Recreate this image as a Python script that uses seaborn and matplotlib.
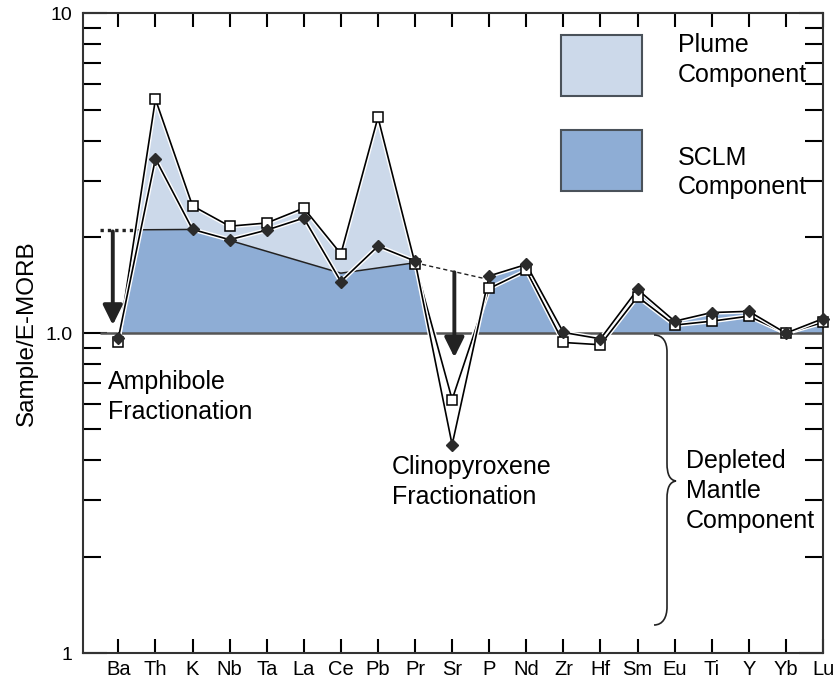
import numpy as np
import pandas as pd
import matplotlib
matplotlib.use("Agg")
import matplotlib.pyplot as plt
import seaborn as sns
from matplotlib import patheffects as pe
from matplotlib.path import Path
from matplotlib.patches import PathPatch, Rectangle

# ---------------- data ----------------
elements = ["Ba", "Th", "K", "Nb", "Ta", "La", "Ce", "Pb", "Pr", "Sr",
            "P", "Nd", "Zr", "Hf", "Sm", "Eu", "Ti", "Y", "Yb", "Lu"]
open_series = [0.94, 5.39, 2.50, 2.16, 2.21, 2.46, 1.77, 4.73, 1.65, 0.62,
               1.38, 1.57, 0.935, 0.92, 1.30, 1.06, 1.09, 1.13, 1.00, 1.08]
filled_series = [0.965, 3.51, 2.11, 1.96, 2.10, 2.29, 1.45, 1.87, 1.68, 0.448,
                 1.51, 1.64, 1.005, 0.96, 1.37, 1.09, 1.16, 1.17, 1.00, 1.11]
sclm_start_value = 2.10               # dotted start, left of Ba
sclm_env_labels = ["K", "Ce", "Pr"]   # SCLM component upper boundary
sclm_env_values = [2.11, 1.54, 1.66]
depl_labels = ["Pr", "P"]             # dashed continuation
depl_values = [1.66, 1.47]
amph_arrow = (2.08, 1.06)             # Amphibole fractionation arrow (from, to)
cpx_arrow = (1.55, 0.84)              # Clinopyroxene fractionation arrow
ytick_vals = [0.1, 1.0, 10.0]
ytick_labels = ["1", "1.0", "10"]

LIGHT = "#ccd9ea"
DARK = "#8eadd5"
W, H = 834, 683

sns.set_theme(style="ticks")
plt.rcParams["font.family"] = ["Liberation Sans", "DejaVu Sans"]
for k in ["text.color", "axes.labelcolor", "xtick.color", "ytick.color"]:
    plt.rcParams[k] = "black"

fig = plt.figure(figsize=(W / 100, H / 100), dpi=100)
L, R, T, B = 83.3, 823.0, 13.3, 653.0
ax = fig.add_axes([L / W, 1 - B / H, (R - L) / W, (B - T) / H])
ax.set_yscale("log")
ax.set_ylim(0.1, 10)
ax.set_xlim(-0.945, 19.0)

idx = {e: i for i, e in enumerate(elements)}
xs = np.arange(len(elements), dtype=float)
lo = np.log10(open_series)
lf = np.log10(filled_series)

# envelopes on a fine grid (straight in log space = straight on screen)
xd = np.linspace(0, len(elements) - 1, 4000)
upper = np.maximum(np.interp(xd, xs, lo), np.interp(xd, xs, lf))
sx = [-0.5] + [idx[e] for e in sclm_env_labels]
sv = np.log10([sclm_start_value] + sclm_env_values)
sclm = np.interp(xd, sx, sv)
pr = idx["Pr"]

left = xd <= pr
low_top = np.where(left, np.minimum(upper, sclm), upper)
ax.fill_between(xd, 1.0, 10 ** low_top, where=low_top > 0, color=DARK,
                lw=0, zorder=1, interpolate=True)
ax.fill_between(xd[left], 10 ** sclm[left], 10 ** upper[left],
                where=upper[left] > sclm[left], color=LIGHT, lw=0, zorder=1,
                interpolate=True)

# baseline at 1.0
ax.plot([-0.5, 19.0], [1, 1], color="#555555", lw=1.8, zorder=2, solid_capstyle="butt")

# SCLM boundary: dotted start to crossing with open-series line, then solid
xc = (np.log10(sclm_start_value) - lo[0]) / (lo[1] - lo[0])
ax.plot([-0.5, xc], [sclm_start_value, sclm_start_value], color="#222222",
        lw=2.4, ls=(0, (1, 1.2)), zorder=3)
ax.plot([xc] + [idx[e] for e in sclm_env_labels],
        [10 ** np.interp(xc, sx, sv)] + sclm_env_values,
        color="#222222", lw=1.1, zorder=3)
ax.plot([idx[e] for e in depl_labels], depl_values, color="#222222",
        lw=1.0, ls=(0, (3, 2.2)), zorder=3)

halo = [pe.Stroke(linewidth=3.2, foreground="white"), pe.Normal()]
df = pd.DataFrame({"x": np.concatenate([xs, xs]),
                   "y": open_series + filled_series,
                   "series": ["open"] * len(xs) + ["filled"] * len(xs)})
for name, z in [("open", 4), ("filled", 5)]:
    sns.lineplot(data=df[df.series == name], x="x", y="y", color="black",
                 lw=1.2, ax=ax, path_effects=halo, zorder=z, estimator=None)
# markers on top
ax.plot(xs, open_series, ls="none", marker="s", ms=7, mfc="white", mec="black",
        mew=1.1, zorder=6, clip_on=False)
ax.plot(xs, filled_series, ls="none", marker="D", ms=6.5, mfc="#2b2b2b",
        mec="#2b2b2b", zorder=7, clip_on=False)

# arrows
for xa, (y0, y1) in [(-0.15, amph_arrow), (9.06, cpx_arrow)]:
    ax.annotate("", xy=(xa, y1), xytext=(xa, y0),
                arrowprops=dict(arrowstyle="-|>,head_length=0.85,head_width=0.42",
                                lw=2.8, color="#222222", mutation_scale=14,
                                shrinkA=0, shrinkB=0), zorder=8)

# axes styling
ax.set_xticks(xs)
ax.set_xticklabels(elements, fontsize=14.5)
ax.set_yticks(ytick_vals)
ax.set_yticklabels(ytick_labels, fontsize=14)
ax.yaxis.set_minor_locator(matplotlib.ticker.LogLocator(base=10, subs=np.arange(2, 10)))
ax.yaxis.set_minor_formatter(matplotlib.ticker.NullFormatter())
ax.tick_params(axis="x", which="major", direction="in", length=10, width=1.5,
               top=True, bottom=True, pad=5)
ax.tick_params(axis="y", which="major", direction="in", length=17, width=1.5,
               left=True, right=True, pad=8)
ax.tick_params(axis="y", which="minor", direction="in", length=13, width=1.5,
               left=True, right=True)
for s in ax.spines.values():
    s.set_color("#333333")
    s.set_linewidth(1.5)
ax.set_xlabel("")
ax.set_ylabel("Sample/E-MORB", fontsize=17.5)
ax.yaxis.set_label_coords(-0.061, 0.5)
ax.set_facecolor("white")


def fx(px, py):
    return (px / W, 1 - py / H)


# legend-like boxes
for (y0, y1), c in [((35, 96), LIGHT), ((130, 191), DARK)]:
    x0, yb = fx(561, y1)
    fig.add_artist(Rectangle((x0, yb), (642 - 561) / W, (y1 - y0) / H,
                             transform=fig.transFigure, facecolor=c,
                             edgecolor="#4a525a", lw=1.5, zorder=10))

fs = 18
fig.text(*fx(678, 60), "Plume\nComponent", fontsize=fs, va="center", ha="left", linespacing=1.3)
fig.text(*fx(678, 172.5), "SCLM\nComponent", fontsize=fs, va="center", ha="left", linespacing=1.3)
fig.text(*fx(108, 397), "Amphibole\nFractionation", fontsize=fs, va="center", ha="left", linespacing=1.3)
fig.text(*fx(392, 482), "Clinopyroxene\nFractionation", fontsize=fs, va="center", ha="left", linespacing=1.3)
fig.text(*fx(686, 491), "Depleted\nMantle\nComponent", fontsize=fs, va="center", ha="left", linespacing=1.3)

# curly brace
pts = [(654, 335), (663, 335), (667, 342), (667, 352),
       (667, 463),
       (667, 475), (670, 480), (676, 481),
       (670, 482), (667, 487), (667, 499),
       (667, 607),
       (667, 617), (663, 625), (654, 625)]
codes = [Path.MOVETO, Path.CURVE4, Path.CURVE4, Path.CURVE4,
         Path.LINETO,
         Path.CURVE4, Path.CURVE4, Path.CURVE4,
         Path.CURVE4, Path.CURVE4, Path.CURVE4,
         Path.LINETO,
         Path.CURVE4, Path.CURVE4, Path.CURVE4]
fig.add_artist(PathPatch(Path([fx(*p) for p in pts], codes), fill=False,
                         edgecolor="#222222", lw=1.2, transform=fig.transFigure))

fig.savefig("out.png", dpi=100)
